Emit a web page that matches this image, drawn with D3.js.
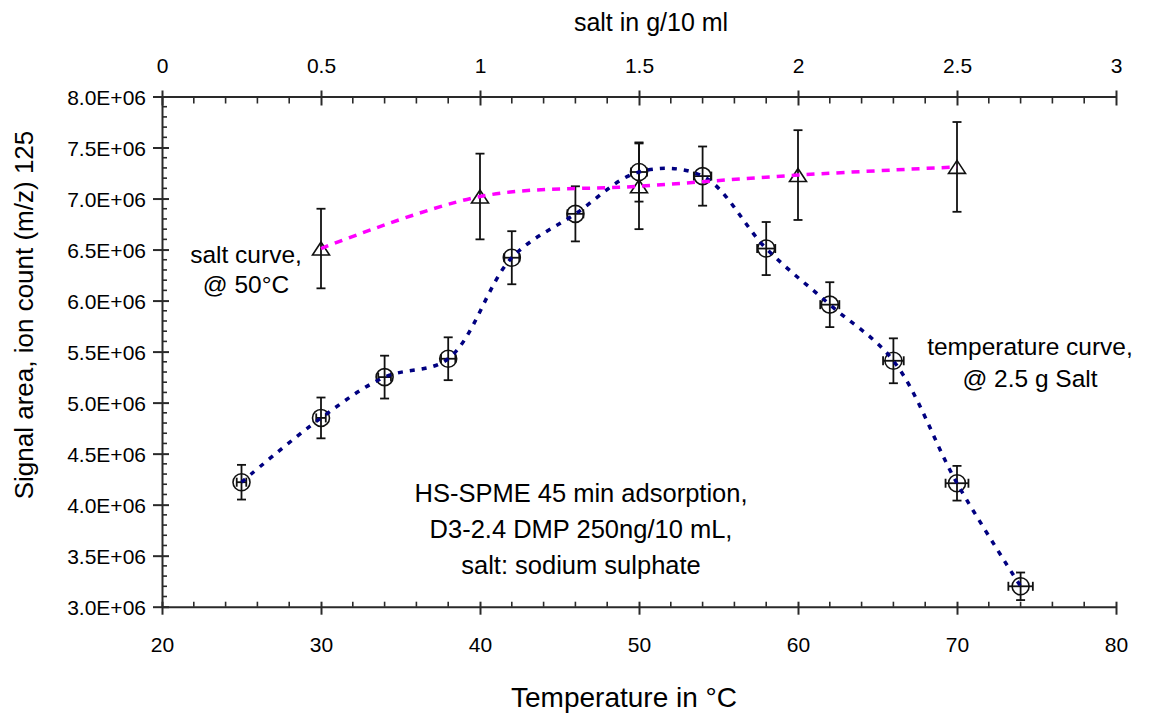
<!DOCTYPE html>
<html>
<head>
<meta charset="utf-8">
<script src="https://cdn.jsdelivr.net/npm/d3@7"></script>
<style>
  html, body { margin: 0; padding: 0; background: #fff; }
  svg { display: block; font-family: Arial, "Liberation Sans", Helvetica, sans-serif; }
</style>
</head>
<body>
<svg id="chart" width="1153" height="717"></svg>
<script>
// Temperature series (2.5 g salt)
const tempC      = [25, 30, 34, 38, 42, 46, 50, 54, 58, 62, 66, 70, 74];
const tempSignal = [4.22e6, 4.85e6, 5.25e6, 5.43e6, 6.42e6, 6.85e6, 7.26e6, 7.22e6, 6.51e6, 5.96e6, 5.41e6, 4.21e6, 3.20e6];
const tempErrY   = [0.17e6, 0.20e6, 0.21e6, 0.21e6, 0.26e6, 0.27e6, 0.29e6, 0.29e6, 0.26e6, 0.22e6, 0.22e6, 0.17e6, 0.135e6];
const tempErrX   = [0.3, 0.3, 0.4, 0.45, 0.47, 0.5, 0.5, 0.55, 0.57, 0.6, 0.65, 0.72, 0.77];

// Salt series (50 °C)
const saltG      = [0.5, 1.0, 1.5, 2.0, 2.5];
const saltSignal = [6.51e6, 7.02e6, 7.12e6, 7.23e6, 7.31e6];
const saltErr    = [0.39e6, 0.42e6, 0.42e6, 0.44e6, 0.44e6];

// Axis ticks
const tempTicks  = [20, 30, 40, 50, 60, 70, 80];
const saltTicks  = [0, 0.5, 1, 1.5, 2, 2.5, 3];
const saltTickLabels = ["0", "0.5", "1", "1.5", "2", "2.5", "3"];
const yTicks     = [3.0e6, 3.5e6, 4.0e6, 4.5e6, 5.0e6, 5.5e6, 6.0e6, 6.5e6, 7.0e6, 7.5e6, 8.0e6];
const yTickLabels = ["3.0E+06", "3.5E+06", "4.0E+06", "4.5E+06", "5.0E+06", "5.5E+06", "6.0E+06", "6.5E+06", "7.0E+06", "7.5E+06", "8.0E+06"];

const svg = d3.select("#chart");
const L = 162, R = 1116, T = 96.5, B = 606.7;

const x  = d3.scaleLinear().domain([20, 80]).range([L, R]);
const xs = d3.scaleLinear().domain([0, 3]).range([L, R]);
const y  = d3.scaleLinear().domain([3e6, 8e6]).range([B, T]);

const axisColor = "#2a2a2a";

// ---- Bottom axis (temperature) ----
const gB = svg.append("g").attr("transform", `translate(0,${B})`)
  .call(d3.axisBottom(x).tickValues(tempTicks).tickSize(0).tickPadding(0).tickFormat(d3.format("d")));
gB.select(".domain").attr("stroke", axisColor).attr("stroke-width", 2);
gB.selectAll(".tick text").attr("font-size", 21).attr("fill", "#000").attr("dy", null).attr("y", 45);
gB.selectAll(".tick").append("line").attr("y1", -5).attr("y2", 8).attr("stroke", axisColor).attr("stroke-width", 2);
gB.selectAll(".minor").data(d3.range(20, 80.01, 2).filter(v => v % 10 !== 0)).enter()
  .append("line").attr("x1", d => x(d)).attr("x2", d => x(d)).attr("y1", 0).attr("y2", -5)
  .attr("stroke", axisColor).attr("stroke-width", 1.6);

// ---- Top axis (salt) ----
const gT = svg.append("g").attr("transform", `translate(0,${T})`)
  .call(d3.axisTop(xs).tickValues(saltTicks).tickSize(0).tickPadding(0).tickFormat((d, i) => saltTickLabels[i]));
gT.select(".domain").attr("stroke", axisColor).attr("stroke-width", 2);
gT.selectAll(".tick text").attr("font-size", 21).attr("fill", "#000").attr("y", -24);
gT.selectAll(".tick").append("line").attr("y1", -6).attr("y2", 9).attr("stroke", axisColor).attr("stroke-width", 2);
gT.selectAll(".minor").data(d3.range(0, 3.001, 0.1).filter(v => Math.abs(v * 2 - Math.round(v * 2)) > 1e-6)).enter()
  .append("line").attr("x1", d => xs(d)).attr("x2", d => xs(d)).attr("y1", 0).attr("y2", 7)
  .attr("stroke", axisColor).attr("stroke-width", 1.6);

// ---- Left axis (signal) ----
const gL = svg.append("g").attr("transform", `translate(${L},0)`)
  .call(d3.axisLeft(y).tickValues(yTicks).tickSize(0).tickPadding(0).tickFormat((d, i) => yTickLabels[i]));
gL.select(".domain").attr("stroke", axisColor).attr("stroke-width", 2);
gL.selectAll(".tick text").attr("font-size", 21).attr("fill", "#000").attr("x", -16).attr("dy", "0.36em");
gL.selectAll(".tick").append("line").attr("x1", -9).attr("x2", 7).attr("stroke", axisColor).attr("stroke-width", 2);
gL.selectAll(".minor").data(d3.range(3.0e6, 8.0e6 + 1, 1e5).filter(v => Math.round(v / 1e5) % 5 !== 0)).enter()
  .append("line").attr("y1", d => y(d)).attr("y2", d => y(d)).attr("x1", 0).attr("x2", 5)
  .attr("stroke", axisColor).attr("stroke-width", 1.6);

// ---- Axis titles ----
svg.append("text").attr("x", 624).attr("y", 707).attr("text-anchor", "middle")
  .attr("font-size", 28).text("Temperature in °C");
svg.append("text").attr("x", 651).attr("y", 31).attr("text-anchor", "middle")
  .attr("font-size", 25).text("salt in g/10 ml");
svg.append("text").attr("transform", "translate(33,315) rotate(-90)").attr("text-anchor", "middle")
  .attr("font-size", 26).text("Signal area, ion count (m/z) 125");

// ---- Error bars ----
const eb = svg.append("g").attr("stroke", "#111").attr("stroke-width", 1.8).attr("fill", "none");
const cap = 4.5;
function vBar(px, v, e) {
  const y0 = y(v - e), y1 = y(v + e);
  eb.append("line").attr("x1", px).attr("x2", px).attr("y1", y0).attr("y2", y1);
  eb.append("line").attr("x1", px - cap).attr("x2", px + cap).attr("y1", y0).attr("y2", y0);
  eb.append("line").attr("x1", px - cap).attr("x2", px + cap).attr("y1", y1).attr("y2", y1);
}
tempC.forEach((t, i) => {
  vBar(x(t), tempSignal[i], tempErrY[i]);
  const py = y(tempSignal[i]), x0 = x(t - tempErrX[i]), x1 = x(t + tempErrX[i]);
  eb.append("line").attr("x1", x0).attr("x2", x1).attr("y1", py).attr("y2", py);
  eb.append("line").attr("x1", x0).attr("x2", x0).attr("y1", py - cap).attr("y2", py + cap);
  eb.append("line").attr("x1", x1).attr("x2", x1).attr("y1", py - cap).attr("y2", py + cap);
});
saltG.forEach((g, i) => vBar(xs(g), saltSignal[i], saltErr[i]));

// ---- Markers ----
svg.append("g").selectAll("circle").data(tempC).enter().append("circle")
  .attr("cx", d => x(d)).attr("cy", (d, i) => y(tempSignal[i])).attr("r", 8.5)
  .attr("fill", "none").attr("stroke", "#111").attr("stroke-width", 1.6);
svg.append("g").selectAll("path").data(saltG).enter().append("path")
  .attr("transform", (d, i) => `translate(${xs(d)},${y(saltSignal[i])})`)
  .attr("d", "M-8.5,6.5L8.5,6.5L0,-6.5Z")
  .attr("fill", "none").attr("stroke", "#111").attr("stroke-width", 1.6);

// ---- Smoothed curves ----
const tempLine = d3.line().x(d => x(d[0])).y(d => y(d[1])).curve(d3.curveCatmullRom.alpha(0.5));
svg.append("path").datum(tempC.map((t, i) => [t, tempSignal[i]]))
  .attr("d", tempLine).attr("fill", "none").attr("stroke", "#000080")
  .attr("stroke-width", 3.5).attr("stroke-dasharray", "5,7");

const saltLine = d3.line().x(d => xs(d[0])).y(d => y(d[1])).curve(d3.curveCatmullRom.alpha(0.5));
svg.append("path").datum(saltG.map((g, i) => [g, saltSignal[i]]))
  .attr("d", saltLine).attr("fill", "none").attr("stroke", "#ff00ff")
  .attr("stroke-width", 3.5).attr("stroke-dasharray", "8,7");

// ---- Annotations ----
function block(cx, y0, dy, size, lines) {
  const t = svg.append("text").attr("text-anchor", "middle").attr("font-size", size);
  lines.forEach((s, i) => t.append("tspan").attr("x", cx).attr("y", y0 + i * dy).text(s));
}
block(246, 263, 30, 24.5, ["salt curve,", "@ 50°C"]);
block(1030, 355, 32, 24.5, ["temperature curve,", "@ 2.5 g Salt"]);
block(581, 502, 36, 25.5, ["HS-SPME 45 min adsorption,", "D3-2.4 DMP 250ng/10 mL,", "salt: sodium sulphate"]);
</script>
</body>
</html>
